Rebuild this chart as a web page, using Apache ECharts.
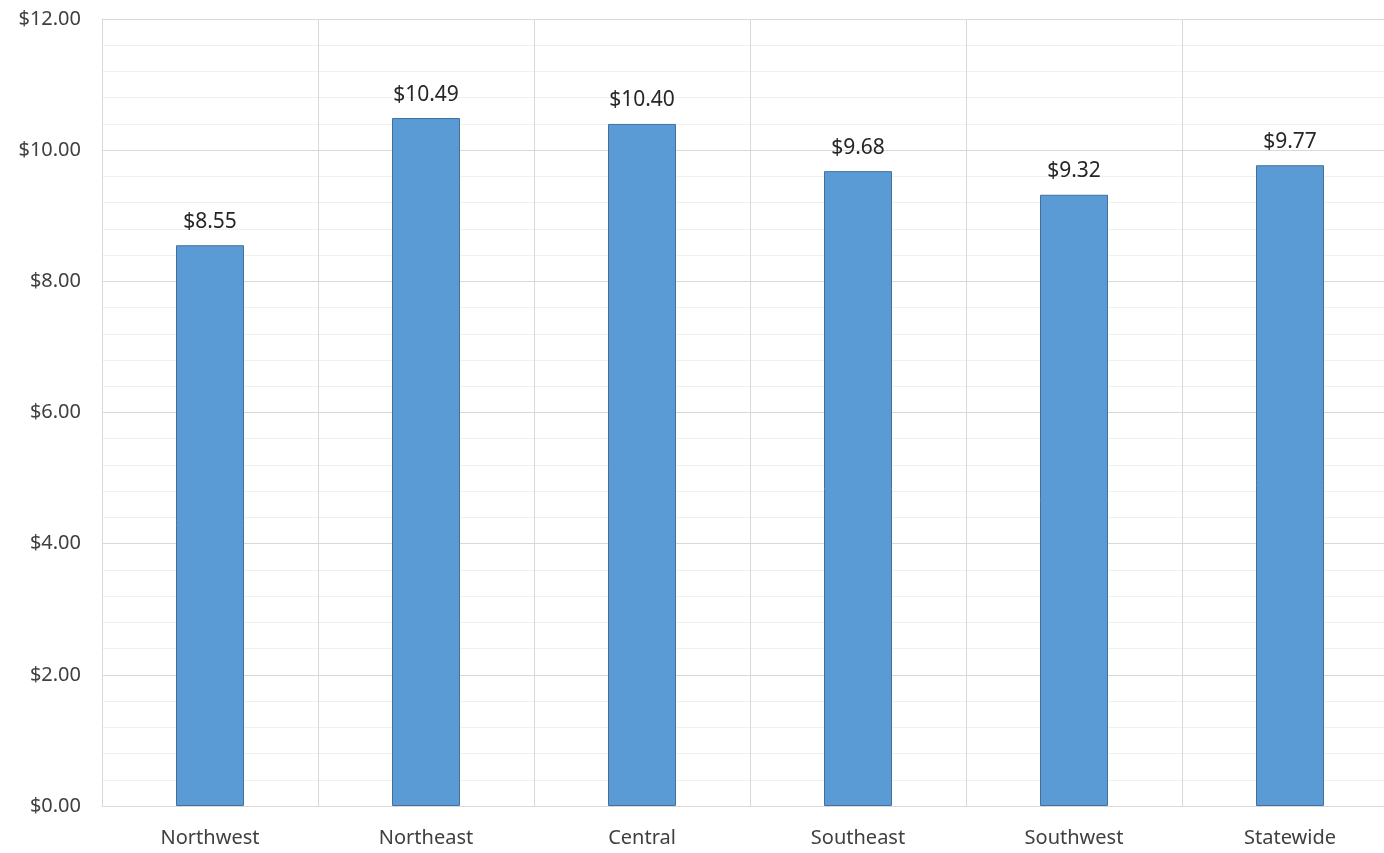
<!DOCTYPE html>
<html>
<head>
<meta charset="utf-8">
<script src="https://cdn.jsdelivr.net/npm/echarts@6/dist/echarts.min.js"></script>
<style>html,body{margin:0;padding:0;background:#fff;overflow:hidden;width:1384px;height:853px;}#c{width:1400px;height:853px;}</style>
</head>
<body>
<div id="c"></div>
<script>
const categories = ['Northwest', 'Northeast', 'Central', 'Southeast', 'Southwest', 'Statewide'];
const values = [8.55, 10.49, 10.40, 9.68, 9.32, 9.77];
const yMin = 0, yMax = 12, yStep = 2;

const chart = echarts.init(document.getElementById('c'));
const font = 'Noto Sans';
chart.setOption({
  animation: false,
  grid: { left: 102, top: 19, width: 1296, bottom: 47, containLabel: false },
  xAxis: {
    type: 'category',
    data: categories,
    boundaryGap: true,
    axisLine: { show: true, lineStyle: { color: '#d9d9d9', width: 1 } },
    axisTick: { show: false },
    splitLine: { show: true, lineStyle: { color: '#d9d9d9', width: 1 } },
    axisLabel: { color: '#404040', fontFamily: font, fontSize: 20, margin: 22 }
  },
  yAxis: {
    type: 'value',
    min: yMin, max: yMax, interval: yStep,
    axisLine: { show: true, lineStyle: { color: '#d9d9d9' } },
    axisTick: { show: false },
    splitLine: { show: true, lineStyle: { color: '#d9d9d9', width: 1 } },
    minorTick: { show: false, splitNumber: 5 },
    minorSplitLine: { show: true, lineStyle: { color: '#f0f0f0', width: 1 } },
    axisLabel: { color: '#404040', fontFamily: font, fontSize: 20, margin: 21,
      formatter: v => '$' + v.toFixed(2) }
  },
  series: [{
    type: 'bar',
    data: values,
    barWidth: 68,
    itemStyle: { color: '#5B9BD5', borderColor: '#41719C', borderWidth: 1 },
    label: { show: true, position: 'top', distance: 13, color: '#262626',
      fontFamily: font, fontSize: 21, formatter: p => '$' + p.value.toFixed(2) }
  }]
});
</script>
</body>
</html>
